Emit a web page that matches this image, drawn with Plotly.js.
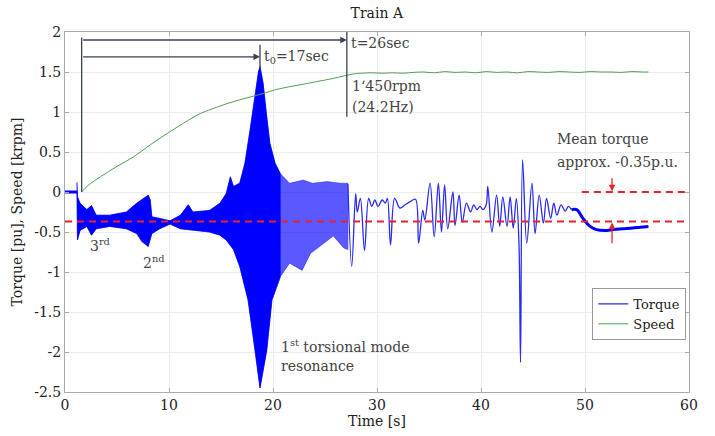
<!DOCTYPE html>
<html>
<head>
<meta charset="utf-8">
<script src="https://cdn.plot.ly/plotly-3.0.1.min.js"></script>
<style>html,body{margin:0;padding:0;background:#fff;}#chart{width:715px;height:436px;}</style>
</head>
<body>
<div id="chart"></div>
<script>
// ---- Data ----
// Torque before start (flat)
const preX = [0, 1.15];
const preY = [0, 0];
// Dense oscillation region: upper and lower envelopes
const upperX = [1.15, 1.2, 1.45, 2.1, 2.55, 2.75, 3.0, 4.3, 5.9, 6.9, 7.4, 8.0, 8.2, 8.35, 9.1, 10.1, 11.1, 11.85, 12.3, 13.9, 14.9, 15.5, 15.9, 16.2, 16.8, 17.3, 17.8, 18.3, 18.6, 18.75, 19.05, 19.4, 19.7, 20.2, 20.7, 21.6, 22.9, 23.8, 25.2, 26.5, 27.2];
const upperY = [0.12, -0.06, -0.14, -0.22, -0.17, -0.22, -0.29, -0.29, -0.25, -0.14, -0.09, -0.04, -0.1, -0.31, -0.33, -0.36, -0.29, -0.16, -0.25, -0.23, -0.14, -0.02, 0.19, 0.07, 0.11, 0.36, 0.78, 1.27, 1.5, 1.57, 1.36, 0.94, 0.61, 0.36, 0.23, 0.11, 0.15, 0.11, 0.13, 0.11, 0.11];
const lowerX = [1.15, 1.2, 1.45, 2.1, 2.55, 3.0, 4.3, 5.9, 6.9, 7.4, 8.0, 8.35, 9.1, 10.1, 11.1, 12.3, 13.9, 14.9, 15.5, 16.2, 16.8, 17.6, 18.27, 18.75, 19.4, 19.9, 20.7, 21.6, 22.8, 23.6, 25.8, 26.8, 27.2];
const lowerY = [0, -0.6, -0.48, -0.43, -0.54, -0.46, -0.43, -0.46, -0.52, -0.62, -0.68, -0.52, -0.46, -0.4, -0.46, -0.48, -0.5, -0.54, -0.6, -0.72, -0.93, -1.35, -1.98, -2.45, -1.98, -1.35, -1.06, -0.89, -0.98, -0.77, -0.55, -0.7, -0.72];
// Discrete oscillations after the resonance
const tailX = [27.2, 27.57, 27.95, 28.1, 28.4, 28.8, 29.2, 29.5, 29.8, 30.1, 30.5, 30.8, 31.0, 31.3, 31.7, 32.2, 32.7, 33.2, 33.7, 34.0, 34.4, 34.6, 35.1, 35.5, 35.9, 36.2, 36.5, 36.8, 37.3, 37.5, 37.9, 38.2, 38.6, 39.0, 39.3, 39.6, 39.9, 40.2, 40.5, 40.65, 41.05, 41.5, 41.8, 42.1, 42.5, 42.8, 43.1, 43.4, 43.65, 43.8, 44.0, 44.4, 44.9, 45.2, 45.6, 46.0, 46.3, 46.7, 47.0, 47.3, 47.7, 48.1, 48.4, 48.7];
const tailY = [0.1, -0.93, -0.02, -0.25, -0.08, -0.73, -0.08, -0.18, -0.1, -0.18, -0.1, -0.14, -0.08, -0.66, -0.08, -0.2, -0.16, -0.12, -0.09, -0.64, -0.23, -0.35, 0.11, -0.56, 0.11, -0.5, 0.09, -0.46, 0.0, -0.42, -0.04, -0.38, -0.14, -0.25, -0.16, -0.22, -0.18, -0.22, -0.16, 0.07, -0.5, -0.04, -0.43, -0.06, -0.43, -0.06, -0.45, -0.08, -0.64, -2.13, 0.4, -0.64, 0.11, -0.52, -0.04, -0.39, -0.08, -0.33, -0.14, -0.29, -0.16, -0.24, -0.18, -0.22];
// Final settled torque
const endX = [48.7, 49.2, 49.8, 50.5, 51.1, 52.1, 52.7, 53.6, 54.6, 55.3, 56.1];
const endY = [-0.22, -0.22, -0.33, -0.43, -0.47, -0.48, -0.47, -0.46, -0.45, -0.44, -0.43];
// Speed [krpm]
const speedX = [1.6, 2.2, 3.4, 5.0, 6.6, 8.2, 9.8, 11.4, 13.0, 14.6, 16.2, 18.75, 20.6, 22.6, 24.2, 25.8, 27.7, 28.5, 29.5, 30.5, 31.5, 32.5, 33.5, 34.5, 35.5, 36.5, 37.5, 38.5, 39.5, 40.5, 41.5, 42.5, 43.5, 44.5, 45.5, 46.5, 47.5, 48.5, 49.5, 50.5, 51.5, 52.5, 53.5, 54.5, 55.5, 56.1];
const speedY = [0, 0.08, 0.19, 0.32, 0.44, 0.59, 0.73, 0.86, 0.98, 1.06, 1.13, 1.22, 1.29, 1.34, 1.38, 1.42, 1.475, 1.485, 1.49, 1.485, 1.49, 1.485, 1.495, 1.5, 1.49, 1.505, 1.495, 1.5, 1.49, 1.505, 1.495, 1.5, 1.49, 1.505, 1.5, 1.495, 1.505, 1.5, 1.495, 1.505, 1.5, 1.5, 1.495, 1.505, 1.5, 1.5];
// Axis ticks
const xTicks = [0, 10, 20, 30, 40, 50, 60];
const yTickVals = [2, 1.5, 1, 0.5, 0, -0.5, -1, -1.5, -2, -2.5];
const yTickText = ['2', '1.5', '1', '0.5', '0', '-0.5', '-1', '-1.5', '-2', '-2.5'];
const meanTorque = -0.37;

// ---- Build polygons from envelopes ----
const polyX = upperX.concat(lowerX.slice().reverse());
const polyY = upperY.concat(lowerY.slice().reverse());
const darkUpIdx = upperX.map((v, i) => i).filter(i => upperX[i] <= 20.7);
const darkLoIdx = lowerX.map((v, i) => i).filter(i => lowerX[i] <= 20.7);
const darkX = darkUpIdx.map(i => upperX[i]).concat(darkLoIdx.map(i => lowerX[i]).reverse());
const darkY = darkUpIdx.map(i => upperY[i]).concat(darkLoIdx.map(i => lowerY[i]).reverse());

const BLUE = '#0000ff';
const FONT = 'DejaVu Serif';
const FS = 14;

const traces = [
  {x: polyX, y: polyY, type: 'scatter', mode: 'lines', fill: 'toself', fillcolor: 'rgba(0,0,255,0.65)', line: {color: 'rgba(0,0,255,0.65)', width: 0.6}, showlegend: false, hoverinfo: 'skip'},
  {x: darkX, y: darkY, type: 'scatter', mode: 'lines', fill: 'toself', fillcolor: BLUE, line: {color: BLUE, width: 0.6}, showlegend: false, hoverinfo: 'skip'},
  {x: preX, y: preY, type: 'scatter', mode: 'lines', line: {color: BLUE, width: 3}, showlegend: false},
  {x: endX, y: endY, type: 'scatter', mode: 'lines', line: {color: BLUE, width: 3, shape: 'spline'}, showlegend: false},
  {x: tailX, y: tailY, type: 'scatter', mode: 'lines', name: 'Torque', line: {color: '#2a2af0', width: 1.3, shape: 'spline', smoothing: 1}},
  {x: speedX, y: speedY, type: 'scatter', mode: 'lines', name: 'Speed', line: {color: '#4f9f4f', width: 1, shape: 'spline', smoothing: 1}}
];

const RED = '#e8222a';
const GREY = '#3c4150';
const shapes = [
  {type: 'line', xref: 'x', yref: 'y', x0: 0, x1: 60, y0: meanTorque, y1: meanTorque, line: {color: RED, width: 2, dash: '7px,5px'}},
  {type: 'line', xref: 'x', yref: 'y', x0: 49.7, x1: 60, y0: 0, y1: 0, line: {color: RED, width: 2, dash: '7px,5px'}},
  {type: 'line', xref: 'x', yref: 'y', x0: 1.6, x1: 1.6, y0: 0, y1: 1.93, line: {color: GREY, width: 1.3}},
  {type: 'line', xref: 'x', yref: 'y', x0: 18.75, x1: 18.75, y0: 1.55, y1: 1.84, line: {color: GREY, width: 1.3}},
  {type: 'line', xref: 'x', yref: 'y', x0: 27.1, x1: 27.1, y0: 0.94, y1: 2.0, line: {color: GREY, width: 1.3}}
];

const txt = (x, y, text, extra) => Object.assign({x: x, y: y, xref: 'x', yref: 'y', text: text, showarrow: false, xanchor: 'left', yanchor: 'middle', font: {family: FONT, size: FS, color: '#444'}}, extra || {});
const arr = (x, y, ax, ay, color) => ({x: x, y: y, ax: ax, ay: ay, xref: 'x', yref: 'y', axref: 'x', ayref: 'y', text: '', showarrow: true, arrowhead: 2, arrowsize: 1, arrowwidth: 1.3, arrowcolor: color});

const annotations = [
  arr(27.1, 1.9, 1.6, 1.9, GREY),
  arr(18.75, 1.69, 1.6, 1.69, GREY),
  arr(52.6, 0.01, 52.6, 0.19, RED),
  arr(52.6, meanTorque - 0.01, 52.6, -0.66, RED),
  txt(18.9, 1.69, 't<sub>0</sub>=17sec'),
  txt(27.3, 1.86, 't=26sec'),
  txt(27.4, 1.32, '1‘450rpm'),
  txt(27.4, 1.06, '(24.2Hz)'),
  txt(47.1, 0.66, 'Mean torque'),
  txt(47.1, 0.375, 'approx. -0.35p.u.'),
  txt(2.2, -0.66, '3<sup>rd</sup>'),
  txt(7.3, -0.875, '2<sup>nd</sup>'),
  txt(20.6, -1.93, '1<sup>st</sup> torsional mode'),
  txt(20.6, -2.18, 'resonance')
];

const layout = {
  width: 715, height: 436,
  margin: {l: 65, r: 26, t: 32, b: 44},
  paper_bgcolor: '#fff', plot_bgcolor: '#fff',
  font: {family: FONT, size: FS, color: '#222'},
  title: {text: 'Train A', x: 0.527, xanchor: 'center', y: 0.982, yanchor: 'top', font: {family: FONT, size: FS, color: '#222'}},
  xaxis: {range: [0, 60], tickvals: xTicks, ticks: 'inside', ticklen: 4, tickcolor: '#aaa', showline: true, linecolor: '#aaa', mirror: 'ticks', showgrid: true, gridcolor: '#ebebeb', zeroline: false,
          title: {text: 'Time [s]', standoff: 0, font: {family: FONT, size: FS}}, tickfont: {family: FONT, size: FS}},
  yaxis: {range: [-2.5, 2], tickvals: yTickVals, ticktext: yTickText, ticks: 'inside', ticklen: 4, tickcolor: '#aaa', showline: true, linecolor: '#aaa', mirror: 'ticks', showgrid: true, gridcolor: '#ebebeb', zeroline: false,
          title: {text: 'Torque [pu], Speed [krpm]', standoff: 8, font: {family: FONT, size: FS}}, tickfont: {family: FONT, size: FS}},
  legend: {x: 0.845, y: 0.289, xanchor: 'left', yanchor: 'top', bordercolor: '#999', borderwidth: 1, bgcolor: '#fff', font: {family: FONT, size: 13, color: '#222'}, itemwidth: 30, tracegroupgap: 0},
  shapes: shapes,
  annotations: annotations,
  showlegend: true
};

Plotly.newPlot('chart', traces, layout, {staticPlot: true, displayModeBar: false});
</script>
</body>
</html>
